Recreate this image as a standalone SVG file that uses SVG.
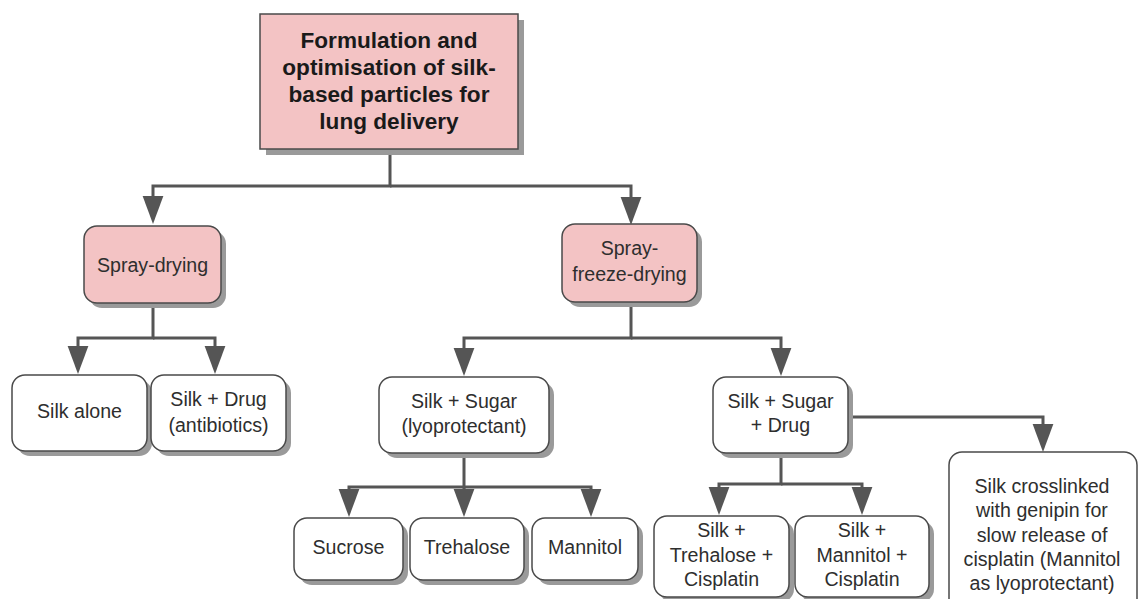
<svg xmlns="http://www.w3.org/2000/svg" width="1141" height="599" viewBox="0 0 1141 599">
<defs>
<marker id="arr" markerUnits="userSpaceOnUse" markerWidth="28" markerHeight="22" viewBox="0 0 27 20" refX="0" refY="10" orient="auto">
<path d="M0,0 L27,10 L0,20 z" fill="#555"/>
</marker>
</defs>
<style>
.sh{fill:#9a9a9a}
.pk{fill:#f3c3c4;stroke:#4a4a4a;stroke-width:1.5}
.wb{fill:#fff;stroke:#4a4a4a;stroke-width:1.5}
.t{font-family:"Liberation Sans",Arial,sans-serif;font-size:19.6px;fill:#2e2e2e;text-anchor:middle}
.tb{font-family:"Liberation Sans",Arial,sans-serif;font-size:22.6px;font-weight:bold;fill:#1a1a1a;text-anchor:middle}
.c{fill:none;stroke:#555;stroke-width:3;marker-end:url(#arr)}
</style>
<rect width="1141" height="599" fill="#fff"/>
<g id="connectors">
<path class="c" d="M390,149 V186 H153 V196"/>
<path class="c" d="M390,186 H631 V197"/>
<path class="c" d="M153,303 V338 H78 V346"/>
<path class="c" d="M153,338 H215 V346"/>
<path class="c" d="M631,302 V338 H464 V348"/>
<path class="c" d="M631,338 H781 V348"/>
<path class="c" d="M464,453 V487 H349 V489"/>
<path class="c" d="M464,487 H591 V489"/>
<path class="c" d="M464,487 V489"/>
<path class="c" d="M781,453 V484 H719 V487"/>
<path class="c" d="M781,484 H862 V487"/>
<path class="c" d="M848,417 H1043 V424"/>
</g>
<g id="root">
<rect class="sh" x="266" y="20" width="258" height="135"/>
<rect class="pk" x="260" y="14" width="258" height="135"/>
<text class="tb" x="389" y="48">Formulation and</text>
<text class="tb" x="389" y="75">optimisation of silk-</text>
<text class="tb" x="389" y="102">based particles for</text>
<text class="tb" x="389" y="129">lung delivery</text>
</g>
<g id="spray-drying">
<rect class="sh" x="89" y="231" width="137" height="77" rx="13"/>
<rect class="pk" x="84" y="226" width="137" height="77" rx="13"/>
<text class="t" x="152.5" y="272">Spray-drying</text>
</g>
<g id="spray-freeze-drying">
<rect class="sh" x="567" y="229" width="135" height="78" rx="13"/>
<rect class="pk" x="562" y="224" width="135" height="78" rx="13"/>
<text class="t" x="629.5" y="255">Spray-</text>
<text class="t" x="629.5" y="281">freeze-drying</text>
</g>
<g id="silk-alone">
<rect class="sh" x="17" y="380" width="135" height="76" rx="13"/>
<rect class="wb" x="12" y="375" width="135" height="76" rx="13"/>
<text class="t" x="79.5" y="418">Silk alone</text>
</g>
<g id="silk-drug">
<rect class="sh" x="156" y="380" width="135" height="76" rx="13"/>
<rect class="wb" x="151" y="375" width="135" height="76" rx="13"/>
<text class="t" x="218.5" y="406">Silk + Drug</text>
<text class="t" x="218.5" y="432">(antibiotics)</text>
</g>
<g id="silk-sugar">
<rect class="sh" x="384" y="382" width="170" height="76" rx="13"/>
<rect class="wb" x="379" y="377" width="170" height="76" rx="13"/>
<text class="t" x="464" y="408">Silk + Sugar</text>
<text class="t" x="464" y="433">(lyoprotectant)</text>
</g>
<g id="silk-sugar-drug">
<rect class="sh" x="718" y="382" width="135" height="76" rx="13"/>
<rect class="wb" x="713" y="377" width="135" height="76" rx="13"/>
<text class="t" x="780.5" y="408">Silk + Sugar</text>
<text class="t" x="780.5" y="432">+ Drug</text>
</g>
<g id="sucrose">
<rect class="sh" x="299" y="523" width="109" height="62" rx="13"/>
<rect class="wb" x="294" y="518" width="109" height="62" rx="13"/>
<text class="t" x="348.5" y="554">Sucrose</text>
</g>
<g id="trehalose">
<rect class="sh" x="415" y="523" width="114" height="62" rx="13"/>
<rect class="wb" x="410" y="518" width="114" height="62" rx="13"/>
<text class="t" x="467" y="554">Trehalose</text>
</g>
<g id="mannitol">
<rect class="sh" x="537" y="523" width="106" height="62" rx="13"/>
<rect class="wb" x="532" y="518" width="106" height="62" rx="13"/>
<text class="t" x="585" y="554">Mannitol</text>
</g>
<g id="silk-trehalose-cisplatin">
<rect class="sh" x="659" y="521" width="135" height="81" rx="13"/>
<rect class="wb" x="654" y="516" width="135" height="81" rx="13"/>
<text class="t" x="721.5" y="537">Silk +</text>
<text class="t" x="721.5" y="562">Trehalose +</text>
<text class="t" x="721.5" y="586">Cisplatin</text>
</g>
<g id="silk-mannitol-cisplatin">
<rect class="sh" x="800" y="521" width="134" height="81" rx="13"/>
<rect class="wb" x="795" y="516" width="134" height="81" rx="13"/>
<text class="t" x="862" y="537">Silk +</text>
<text class="t" x="862" y="562">Mannitol +</text>
<text class="t" x="862" y="586">Cisplatin</text>
</g>
<g id="silk-genipin">
<rect class="wb" x="949" y="452" width="188" height="160" rx="13"/>
<text class="t" x="1042" y="493">Silk crosslinked</text>
<text class="t" x="1042" y="517">with genipin for</text>
<text class="t" x="1042" y="542">slow release of</text>
<text class="t" x="1042" y="566">cisplatin (Mannitol</text>
<text class="t" x="1042" y="590">as lyoprotectant)</text>
</g>
</svg>
